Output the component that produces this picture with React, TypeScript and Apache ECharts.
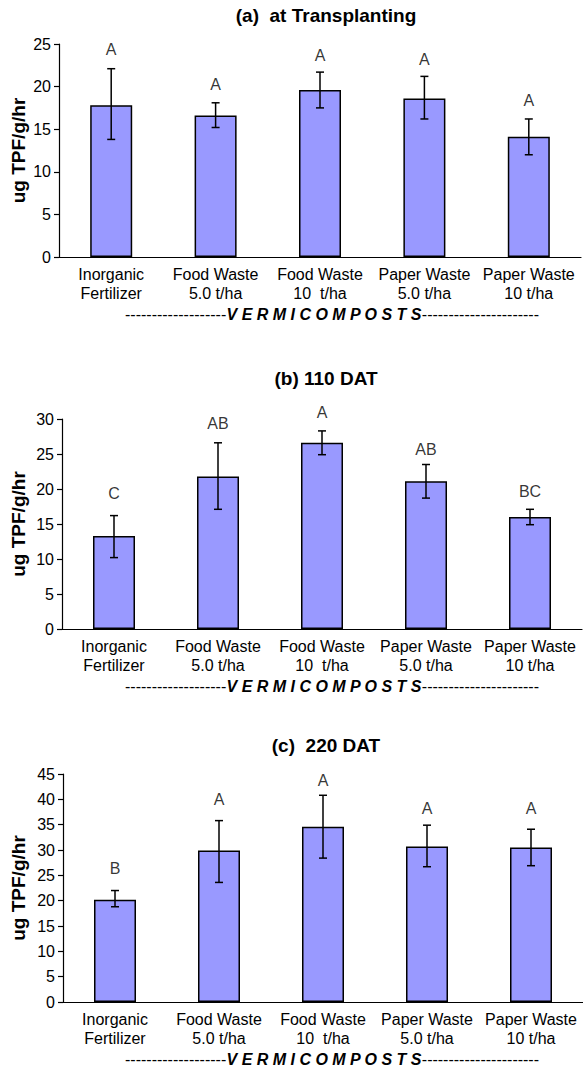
import React, { useEffect, useRef } from "react";
import * as echarts from "echarts";

const categories = [
  "Inorganic\nFertilizer",
  "Food Waste\n5.0 t/ha",
  "Food Waste\n10  t/ha",
  "Paper Waste\n5.0 t/ha",
  "Paper Waste\n10 t/ha",
];

const titles = ["(a)  at Transplanting", "(b) 110 DAT", "(c)  220 DAT"];
const yMax = [25, 30, 45];

const meansA = [17.8, 16.6, 19.6, 18.6, 14.1];
const lowA = [13.8, 15.2, 17.5, 16.2, 12.0];
const highA = [22.1, 18.1, 21.7, 21.2, 16.2];
const lettersA = ["A", "A", "A", "A", "A"];
const letterYA = [24.3, 20.2, 23.6, 23.2, 18.4];

const meansB = [13.3, 21.8, 26.6, 21.1, 16.0];
const lowB = [10.2, 17.1, 24.9, 18.7, 14.9];
const highB = [16.2, 26.6, 28.3, 23.5, 17.1];
const lettersB = ["C", "AB", "A", "AB", "BC"];
const letterYB = [19.4, 29.4, 30.9, 25.6, 19.7];

const meansC = [20.2, 29.9, 34.6, 30.7, 30.5];
const lowC = [18.8, 23.6, 28.4, 26.7, 26.9];
const highC = [22.0, 35.8, 40.8, 34.9, 34.1];
const lettersC = ["B", "A", "A", "A", "A"];
const letterYC = [26.4, 39.9, 43.8, 38.2, 38.2];

const yName = "ug TPF/g/hr";
const groupLabel = "-------------------{b|V E R M I C O M P O S T S}----------------------";

const panels = [
  { means: meansA, low: lowA, high: highA, letters: lettersA, letterY: letterYA },
  { means: meansB, low: lowB, high: highB, letters: lettersB, letterY: letterYB },
  { means: meansC, low: lowC, high: highC, letters: lettersC, letterY: letterYC },
];

const grids = [
  { left: 59, top: 44, width: 522, height: 213 },
  { left: 62, top: 419, width: 520, height: 210 },
  { left: 63, top: 774, width: 520, height: 228 },
];
const titleY = [15, 378, 745];

const FONT = "Liberation Sans, Arial, sans-serif";

export default function App() {
  const ref = useRef<HTMLDivElement>(null);
  useEffect(() => {
    if (!ref.current) return;
    const chart = echarts.init(ref.current, null, { renderer: "svg" });

    const xAxes: any[] = [];
    const yAxes: any[] = [];
    const series: any[] = [];
    const graphics: any[] = [];

    panels.forEach((p, k) => {
      xAxes.push({
        type: "category",
        gridIndex: k,
        data: categories,
        axisLine: { lineStyle: { color: "#000", width: 1.2 } },
        axisTick: { length: 5, lineStyle: { color: "#000", width: 1.2 } },
        axisLabel: {
          color: "#000",
          fontSize: 16,
          fontFamily: FONT,
          lineHeight: 19,
          margin: 8,
          interval: 0,
        },
      });
      yAxes.push({
        type: "value",
        gridIndex: k,
        min: 0,
        max: yMax[k],
        interval: 5,
        splitLine: { show: false },
        axisLine: { show: true, lineStyle: { color: "#000", width: 1.2 } },
        axisTick: { show: true, length: 5, lineStyle: { color: "#000", width: 1.2 } },
        axisLabel: { color: "#000", fontSize: 16, fontFamily: FONT, margin: 8 },
      });
      series.push({
        type: "bar",
        xAxisIndex: k,
        yAxisIndex: k,
        data: p.means,
        barWidth: 42,
        itemStyle: { color: "#9999FF", borderColor: "#000", borderWidth: 1.5 },
      });
      series.push({
        type: "custom",
        xAxisIndex: k,
        yAxisIndex: k,
        data: p.means.map((_, i) => [i, p.low[i], p.high[i]]),
        renderItem: (params: any, api: any) => {
          const lo = api.coord([api.value(0), api.value(1)]);
          const hi = api.coord([api.value(0), api.value(2)]);
          const st = { stroke: "#000", lineWidth: 1.5 };
          return {
            type: "group",
            children: [
              { type: "line", shape: { x1: lo[0], y1: lo[1], x2: hi[0], y2: hi[1] }, style: st },
              { type: "line", shape: { x1: lo[0] - 4, y1: lo[1], x2: lo[0] + 4, y2: lo[1] }, style: st },
              { type: "line", shape: { x1: hi[0] - 4, y1: hi[1], x2: hi[0] + 4, y2: hi[1] }, style: st },
            ],
          };
        },
        z: 5,
      });
      series.push({
        type: "scatter",
        xAxisIndex: k,
        yAxisIndex: k,
        symbolSize: 0,
        clip: false,
        data: p.letterY.map((v, i) => ({ value: [i, v], name: p.letters[i] })),
        label: {
          show: true,
          position: "inside",
          formatter: (d: any) => d.name,
          color: "#000",
          fontSize: 16,
          fontFamily: FONT,
        },
        silent: true,
      });

      const g = grids[k];
      graphics.push({
        type: "text",
        x: 326,
        y: titleY[k],
        style: {
          text: titles[k],
          textAlign: "center",
          textVerticalAlign: "middle",
          fontSize: 19,
          fontWeight: "bold",
          fontFamily: FONT,
          fill: "#000",
        },
      });
      graphics.push({
        type: "text",
        x: 18,
        y: g.top + g.height / 2,
        rotation: Math.PI / 2,
        style: {
          text: yName,
          textAlign: "center",
          textVerticalAlign: "middle",
          fontSize: 19,
          fontWeight: "bold",
          fontFamily: FONT,
          fill: "#000",
        },
      });
      graphics.push({
        type: "text",
        x: 332,
        y: g.top + g.height + 57,
        style: {
          text: groupLabel,
          textAlign: "center",
          textVerticalAlign: "middle",
          fontSize: 16,
          fontFamily: FONT,
          fill: "#000",
          rich: {
            b: { fontSize: 16, fontWeight: "bold", fontStyle: "italic", fontFamily: FONT, fill: "#000" },
          },
        },
      });
    });

    chart.setOption({
      animation: false,
      backgroundColor: "#fff",
      grid: grids.map((g) => ({ ...g, containLabel: false })),
      xAxis: xAxes,
      yAxis: yAxes,
      series,
      graphic: graphics,
    });
    return () => chart.dispose();
  }, []);
  return (
    <div
      ref={ref}
      style={{ position: "absolute", left: 0, top: 0, width: 583, height: 1068 }}
    />
  );
}
